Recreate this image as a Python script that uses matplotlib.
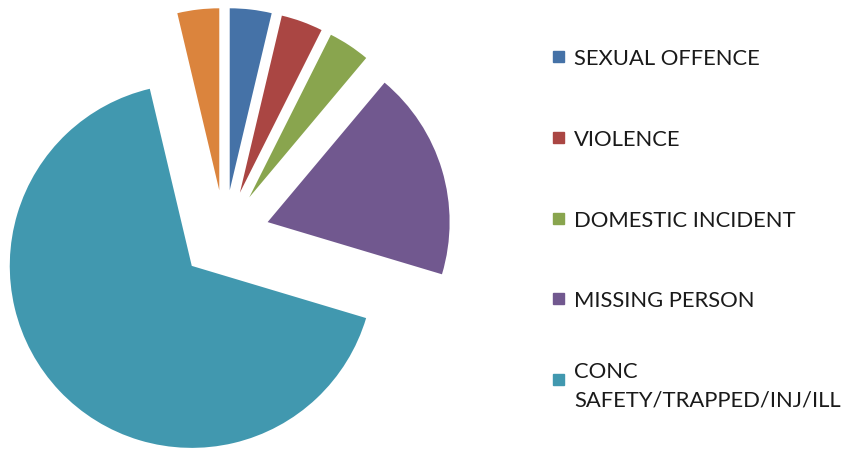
import matplotlib.pyplot as plt
from matplotlib.patches import Rectangle

# Incident categories, clockwise from 12 o'clock
labels = ['SEXUAL OFFENCE', 'VIOLENCE', 'DOMESTIC INCIDENT', 'MISSING PERSON',
          'CONC\nSAFETY/TRAPPED/INJ/ILL', 'OTHER']
counts = [1, 1, 1, 5, 18, 1]
colors = ['#4572A7', '#AA4643', '#89A54E', '#71588F', '#4198AF', '#DB843D']
in_legend = [True, True, True, True, True, False]  # legend in source is cut off

W, H = 846, 452
R = 182  # pie radius in px
fig = plt.figure(figsize=(W / 100, H / 100), dpi=100)
ax = fig.add_axes([0, 0, 1, 1])

# explode is in data units here (pixels), ~25% of the radius
ax.pie(counts, colors=colors, startangle=90, counterclock=False,
       explode=[45] * len(counts), center=(224.5, H - 236), radius=R,
       wedgeprops=dict(linewidth=0))
# pie() resets the limits, so put the pixel frame back afterwards
ax.set_xlim(0, W)
ax.set_ylim(0, H)
ax.axis('off')

# hand-made legend, one entry every ~81 px
row = 0
for lab, col, show in zip(labels, colors, in_legend):
    if not show:
        continue
    y = H - (57 + row * 80.8)
    ax.add_patch(Rectangle((553, y - 6), 11, 11, color=col))
    ax.text(574, y, lab, fontsize=15.8, family='Lato', color='#1a1a1a',
            va='center_baseline', linespacing=1.55)
    row += 1

fig.savefig('out.png', dpi=100)
